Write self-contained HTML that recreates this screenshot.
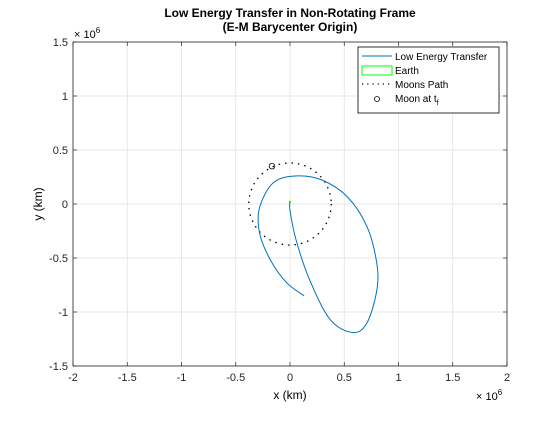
<!DOCTYPE html>
<html><head><meta charset="utf-8"><style>
body{margin:0;background:#fff}
svg text{font-family:"Liberation Sans",Helvetica,sans-serif;}
</style></head><body>
<svg id="chart" width="560" height="420" viewBox="0 0 560 420" xmlns="http://www.w3.org/2000/svg">
<rect width="560" height="420" fill="#fff"/>
<g id="grid"></g>
<g id="axes"></g>
<g id="plot"></g>
<text x="290" y="17" font-size="12" font-weight="bold" text-anchor="middle">Low Energy Transfer in Non-Rotating Frame</text>
<text x="290" y="31" font-size="12" font-weight="bold" text-anchor="middle">(E-M Barycenter Origin)</text>
<text x="290" y="399" font-size="12" text-anchor="middle">x (km)</text>
<text x="42" y="204" font-size="12" text-anchor="middle" transform="rotate(-90 42 204)">y (km)</text>
<text x="74" y="38" font-size="11">× 10<tspan font-size="8" dy="-5">6</tspan></text>
<text x="476" y="400" font-size="11">× 10<tspan font-size="8" dy="-5">6</tspan></text>
<g>
<rect x="358" y="47" width="141" height="66" fill="#fff" stroke="#000" stroke-width="0.8"/>
<line x1="362" y1="56" x2="392" y2="56" stroke="#0072BD" stroke-width="1"/>
<text x="395" y="60" font-size="10">Low Energy Transfer</text>
<rect x="362" y="66" width="30" height="9" fill="none" stroke="#00ff00" stroke-width="1"/>
<text x="395" y="74" font-size="10">Earth</text>
<line x1="362" y1="84" x2="392" y2="84" stroke="#000" stroke-width="1.2" stroke-dasharray="1.2,4"/>
<text x="395" y="88" font-size="10">Moons Path</text>
<circle cx="377" cy="99" r="2.5" fill="none" stroke="#000" stroke-width="0.8"/>
<text x="395" y="102" font-size="10">Moon at t<tspan font-size="7" dy="3">f</tspan></text>
</g>
</svg>
<script>
const xTicks=[-2,-1.5,-1,-0.5,0,0.5,1,1.5,2];
const yTicks=[-1.5,-1,-0.5,0,0.5,1,1.5];
const trajX=[0,0,0.055,0.18,0.37,0.58,0.71,0.80,0.80,0.71,0.53,0.30,0.065,-0.15,-0.28,-0.28,-0.18,-0.03,0.13];
const trajY=[0.02,-0.06,-0.33,-0.70,-1.07,-1.19,-1.10,-0.80,-0.55,-0.21,0.065,0.22,0.26,0.20,-0.03,-0.27,-0.52,-0.73,-0.85];
const moonRadius=[0.38];
const moonEnd=[-0.166,0.35];
const earth=[0,0.02];
const L=73,R=507,T=42,B=366;
const sx=v=>L+(v+2)/4*(R-L);
const sy=v=>B-(v+1.5)/3*(B-T);
const NS="http://www.w3.org/2000/svg";
function mk(p,tag,a){const e=document.createElementNS(NS,tag);for(const k in a)e.setAttribute(k,a[k]);p.appendChild(e);return e;}
const grid=document.getElementById('grid'),axes=document.getElementById('axes'),plot=document.getElementById('plot');
xTicks.forEach(t=>{const x=sx(t);
 const g=mk(grid,'line',{x1:x,x2:x,y1:T,y2:B,stroke:'#dfdfdf','stroke-width':0.7});
 
 
 mk(axes,'line',{x1:x,x2:x,y1:B,y2:B-4,stroke:'#262626','stroke-width':0.7});
 mk(axes,'line',{x1:x,x2:x,y1:T,y2:T+4,stroke:'#262626','stroke-width':0.7});
 const lb=mk(axes,'text',{x:x,y:B+15,'font-size':11,'text-anchor':'middle',fill:'#262626'});
 lb.textContent=String(t);
 
 
});
yTicks.forEach(t=>{const y=sy(t);
 const g=mk(grid,'line',{x1:L,x2:R,y1:y,y2:y,stroke:'#dfdfdf','stroke-width':0.7});
 
 
 mk(axes,'line',{x1:L,x2:L+4,y1:y,y2:y,stroke:'#262626','stroke-width':0.7});
 mk(axes,'line',{x1:R,x2:R-4,y1:y,y2:y,stroke:'#262626','stroke-width':0.7});
 const lb=mk(axes,'text',{x:L-5,y:y+4,'font-size':11,'text-anchor':'end',fill:'#262626'});
 lb.textContent=String(t);
 
 
});
mk(axes,'rect',{x:L,y:T,width:R-L,height:B-T,fill:'none',stroke:'#262626','stroke-width':0.8});
// moon path
const r=moonRadius[0];
const mp=mk(plot,'ellipse',{cx:sx(0),cy:sy(0),rx:sx(r)-sx(0),ry:sy(0)-sy(r),fill:'none',stroke:'#000','stroke-width':1.3,'stroke-dasharray':'1.5,5'});


// trajectory catmull-rom
const P=trajX.map((x,i)=>[sx(x),sy(trajY[i])]);
let d=`M${P[0][0]},${P[0][1]}`;
for(let i=0;i<P.length-1;i++){const p0=P[Math.max(0,i-1)],p1=P[i],p2=P[i+1],p3=P[Math.min(P.length-1,i+2)];
 d+=` C${p1[0]+(p2[0]-p0[0])/6},${p1[1]+(p2[1]-p0[1])/6} ${p2[0]-(p3[0]-p1[0])/6},${p2[1]-(p3[1]-p1[1])/6} ${p2[0]},${p2[1]}`;}
const tr=mk(plot,'path',{d:d,fill:'none',stroke:'#0072BD','stroke-width':1});


const e=mk(plot,'rect',{x:sx(earth[0])-1,y:sy(earth[1])-1,width:2,height:2,fill:'#00ff00'});


const m=mk(plot,'circle',{cx:sx(moonEnd[0]),cy:sy(moonEnd[1]),r:2.8,fill:'none',stroke:'#000','stroke-width':0.8});


</script>
</body></html>
